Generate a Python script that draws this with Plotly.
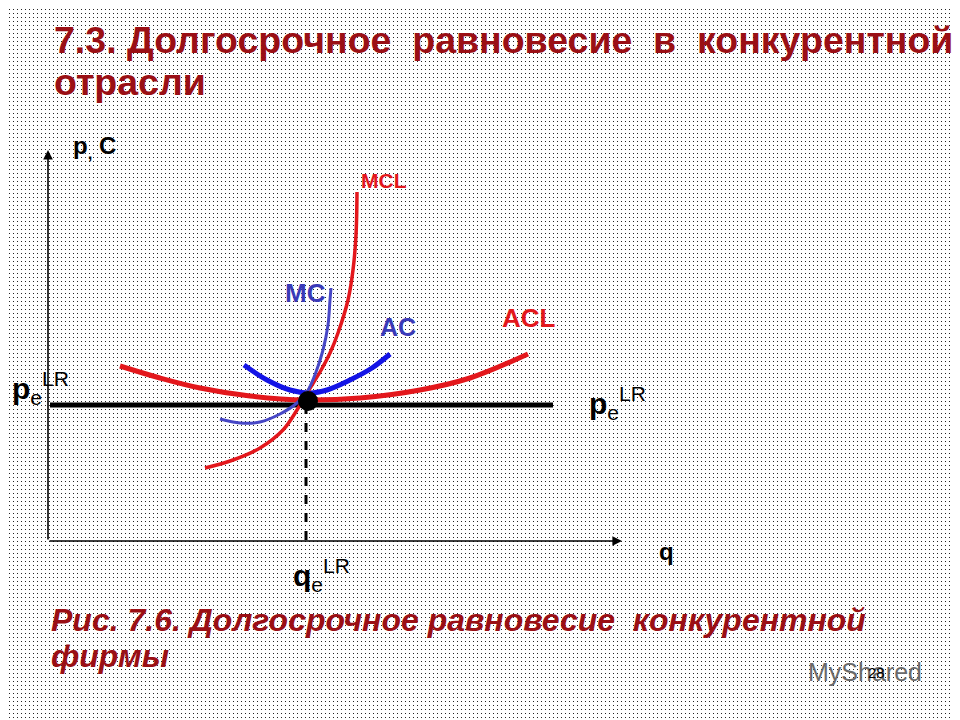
import base64
import plotly.graph_objects as go

# curves (q, cost)
acl_q = [7.2, 11.2, 15.2, 20.2, 25.7, 31.2, 37.2, 42.2, 48.0]
acl_c = [17.5, 16.3, 15.3, 14.5, 14.1, 14.3, 15.1, 16.3, 18.7]

ac_q = [19.6, 21.9, 24.2, 26.2, 27.9, 30.2, 32.4, 34.2]
ac_c = [17.6, 16.1, 15.1, 14.8, 15.1, 16.1, 17.3, 18.7]

mc_q = [17.2, 19.2, 21.2, 23.2, 24.9, 25.9, 26.8, 27.5, 28.0, 28.2, 28.3]
mc_c = [12.2, 11.8, 11.9, 12.7, 13.8, 14.9, 16.9, 19.1, 21.6, 24.1, 25.3]

mcl_q = [15.7, 18.5, 21.2, 23.5, 24.9, 25.9, 27.2, 28.2, 29.0, 30.0, 30.5, 30.8, 30.9]
mcl_c = [7.3, 8.1, 9.3, 11.1, 13.1, 14.8, 16.9, 18.8, 20.8, 24.1, 27.1, 30.6, 34.9]

p_e = 13.6
q_e = 25.8
price_q = [0.2, 50.5]
q_max = 57.4
c_max = 39.1

RED = '#e3171c'
BLUE = '#1414e6'
MCBLUE = '#4747c6'
DARKRED = '#9a0f15'
FONT = 'Liberation Sans'
OFF = 8  # page body margin of the browser

fig = go.Figure()

fig.add_trace(go.Scatter(x=price_q, y=[p_e, p_e], mode='lines',
                         line=dict(color='black', width=5)))
fig.add_trace(go.Scatter(x=[q_e, q_e], y=[p_e, 0], mode='lines',
                         line=dict(color='black', width=3, dash='dash')))
fig.add_trace(go.Scatter(x=acl_q, y=acl_c, mode='lines', line_shape='spline',
                         line=dict(color=RED, width=5)))
fig.add_trace(go.Scatter(x=ac_q, y=ac_c, mode='lines', line_shape='spline',
                         line=dict(color=BLUE, width=5)))
fig.add_trace(go.Scatter(x=mcl_q, y=mcl_c, mode='lines', line_shape='spline',
                         line=dict(color=RED, width=3.5)))
fig.add_trace(go.Scatter(x=mc_q, y=mc_c, mode='lines', line_shape='spline',
                         line=dict(color=MCBLUE, width=3)))
fig.add_trace(go.Scatter(x=[q_e + 0.2], y=[p_e + 0.4], mode='markers',
                         marker=dict(color='black', size=20)))

# axes with arrows
for (x, y) in [(q_max, 0), (0, c_max)]:
    fig.add_annotation(x=x, y=y, ax=0, ay=0, xref='x', yref='y', axref='x', ayref='y',
                       showarrow=True, arrowhead=2, arrowsize=1.2, arrowwidth=1.6,
                       arrowcolor='black', text='')

def label(x, y, text, size, color='black'):
    fig.add_annotation(x=x, y=y, xref='x', yref='y', text=text, showarrow=False,
                       font=dict(family=FONT, size=size, color=color))

label(4.6, 39.4, '<b>p<sub>,</sub> C</b>', 24)
label(61.8, -1.0, '<b>q</b>', 24)
label(-0.8, 15.3, '<b>p</b><sub>e</sub><sup>LR</sup>', 30)
label(56.9, 13.8, '<b>p</b><sub>e</sub><sup>LR</sup>', 30)
label(27.3, -3.4, '<b>q</b><sub>e</sub><sup>LR</sup>', 30)
label(33.6, 36.1, '<b>MCL</b>', 21, RED)
label(25.7, 24.8, '<b>MC</b>', 26, '#3a3ab8')
label(35.0, 21.4, '<b>AC</b>', 25, '#3a3ab8')
label(48.1, 22.3, '<b>ACL</b>', 26, RED)

def paper_text(x, y, text, size, color, anchor='left'):
    fig.add_annotation(x=(x - OFF) / 960, y=1 - (y - OFF) / 720, xref='paper', yref='paper',
                       text=text, showarrow=False, xanchor=anchor, yanchor='middle',
                       font=dict(family=FONT, size=size, color=color))

paper_text(52, 40, '<b>7.3. Долгосрочное  равновесие  в  конкурентной</b>', 37.5, DARKRED)
paper_text(52, 82, '<b>отрасли</b>', 37.5, DARKRED)
paper_text(49, 620, '<b><i>Рис. 7.6. Долгосрочное равновесие  конкурентной</i></b>', 32, DARKRED)
paper_text(49, 656, '<b><i>фирмы</i></b>', 32, DARKRED)
paper_text(806, 672, 'MyShared', 25, '#6a6a6a')
paper_text(866, 672, '28', 15, 'black')

# dotted slide background
svg = ("<svg xmlns='http://www.w3.org/2000/svg' width='960' height='720'>"
       "<defs><pattern id='d' width='4' height='4' patternUnits='userSpaceOnUse'>"
       "<rect x='1' y='1' width='1' height='1' fill='#000'/></pattern></defs>"
       "<rect width='960' height='720' fill='url(#d)'/></svg>")
src = 'data:image/svg+xml;base64,' + base64.b64encode(svg.encode()).decode()

fig.update_layout(
    width=960, height=720,
    margin=dict(l=0, r=0, t=0, b=0),
    paper_bgcolor='white',
    plot_bgcolor='rgba(0,0,0,0)',
    showlegend=False,
    xaxis=dict(range=[-4.0, 92.0], visible=False, fixedrange=True),
    yaxis=dict(range=[-18.7, 53.3], visible=False, fixedrange=True),
    images=[dict(source=src, xref='paper', yref='paper', x=0, y=1, sizex=1, sizey=1,
                 sizing='stretch', layer='below', opacity=0.85)],
)

fig.write_html("out.html")
